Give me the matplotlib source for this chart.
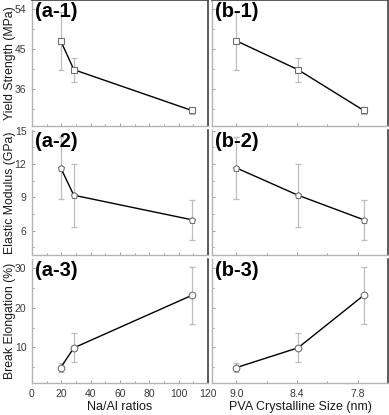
import matplotlib
matplotlib.use("Agg")
import matplotlib.pyplot as plt
from matplotlib.ticker import MultipleLocator, FixedLocator

plt.rcParams['font.family'] = ['Liberation Sans', 'DejaVu Sans']

# Data
na_al = [19.6, 28.5, 109.0]
cryst_size = [9.0, 8.39, 7.74]

yield_strength = [46.9, 40.4, 31.2]
yield_err = [6.6, 2.7, 0.8]
elastic_modulus = [11.64, 9.18, 6.97]
elastic_err = [2.8, 2.83, 1.78]
break_elong = [4.9, 9.9, 23.2]
break_err = [1.2, 3.7, 7.2]

ylabels = ["Yield Strength (MPa)", "Elastic Modulus (GPa)", "Break Elongation (%)"]
row_vals = [yield_strength, elastic_modulus, break_elong]
row_errs = [yield_err, elastic_err, break_err]
row_markers = ['s', 'p', 'o']
row_ms = [4.2, 5.0, 4.8]
row_ylims = [(27.7, 56.1), (3.8, 15.05), (1.0, 32.4)]
row_major = [[36, 45, 54], [6, 9, 12, 15], [10, 20, 30]]
row_minor = [4.5, 1.5, 5]
panel_tags = [["(a-1)", "(b-1)"], ["(a-2)", "(b-2)"], ["(a-3)", "(b-3)"]]

left_xticks = [0, 20, 40, 60, 80, 100, 120]
right_xticks = [9.0, 8.4, 7.8]
right_xticklabels = ["9.0", "8.4", "7.8"]

W, H = 389, 415
fig = plt.figure(figsize=(W / 100, H / 100), dpi=100)

col_x = [32, 212]
col_w = 176
row_top = [0, 130, 259]
row_bot = [126, 255, 383]

light = '#b4b4b4'
dark = '#404040'
tickc = '#3a3a3a'

for r in range(3):
    for c in range(2):
        x0 = col_x[c] / W
        y0 = 1 - row_bot[r] / H
        h = (row_bot[r] - row_top[r]) / H
        ax = fig.add_axes([x0, y0, col_w / W, h])
        xs = na_al if c == 0 else cryst_size
        ax.errorbar(xs, row_vals[r], yerr=row_errs[r], fmt='none',
                    ecolor='#bdbdbd', elinewidth=0.9, capsize=2, capthick=0.9, zorder=1)
        ax.plot(xs, row_vals[r], color='black', lw=1.0, zorder=2)
        ax.plot(xs, row_vals[r], linestyle='none', marker=row_markers[r],
                ms=row_ms[r], mfc='white', mec='#707070', mew=0.8, zorder=3)
        ax.set_ylim(*row_ylims[r])
        ax.yaxis.set_major_locator(FixedLocator(row_major[r]))
        ax.yaxis.set_minor_locator(MultipleLocator(row_minor[r]))
        if c == 0:
            ax.set_xlim(0, 120)
            ax.xaxis.set_major_locator(FixedLocator(left_xticks))
            ax.xaxis.set_minor_locator(MultipleLocator(10))
        else:
            ax.set_xlim(9.24, 7.5)
            ax.xaxis.set_major_locator(FixedLocator(right_xticks))
            ax.xaxis.set_minor_locator(FixedLocator([8.7, 8.1, 7.5]))
        ax.tick_params(which='both', direction='in', colors='#909090',
                       labelcolor=tickc, labelsize=7.5, width=0.6)
        ax.tick_params(which='major', length=2.5, pad=4)
        ax.tick_params(which='minor', length=1.5)
        for s in ['left', 'bottom']:
            ax.spines[s].set_color(light)
            ax.spines[s].set_linewidth(1.0)
        ax.spines['top'].set_visible(r == 0)
        ax.spines['top'].set_color(dark)
        ax.spines['top'].set_linewidth(1.2)
        ax.spines['right'].set_color(dark)
        ax.spines['right'].set_linewidth(1.2)
        if c == 1:
            ax.set_yticklabels([])
        if r < 2:
            ax.set_xticklabels([])
        elif c == 1:
            ax.set_xticklabels(right_xticklabels)
        ax.text(0.018, 0.985, panel_tags[r][c], transform=ax.transAxes,
                fontsize=14.5, fontweight='bold', ha='left', va='top')
        if r == 2:
            ax.set_xlabel("Na/Al ratios" if c == 0 else "PVA Crystalline Size (nm)",
                          fontsize=9, color='#1a1a1a', labelpad=2)
    fig.text(10 / W, 1 - (row_top[r] + row_bot[r]) / 2 / H, ylabels[r],
             rotation=90, ha='center', va='center', fontsize=8.8, color='#1a1a1a')

fig.savefig("out.png", dpi=100)
